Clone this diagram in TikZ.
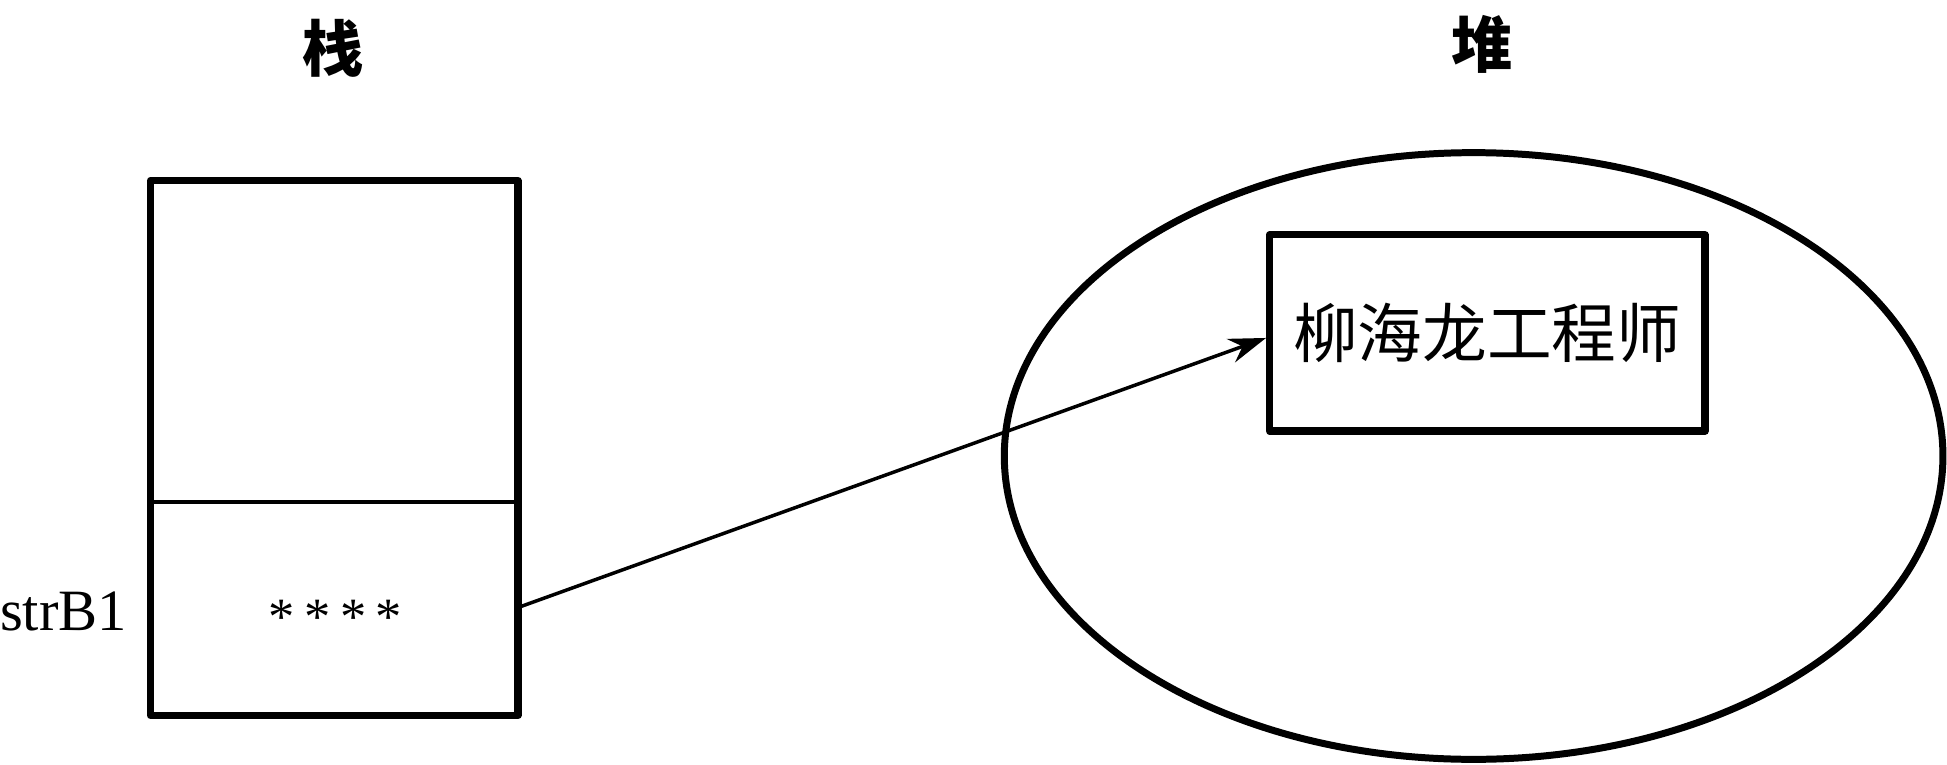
\documentclass[tikz,border=0pt]{standalone}
\usepackage{fontspec}
\setmainfont{Liberation Serif}
\newfontfamily\cjk{Noto Sans CJK SC}
\usetikzlibrary{arrows.meta,shapes.geometric}
\begin{document}
\begin{tikzpicture}[x=0.01cm,y=-0.01cm,
  cell/.style={draw=none,inner sep=0pt,minimum width=2.94cm},
  thickline/.style={line width=1.7pt,line join=round},
  title/.style={font=\cjk\bfseries\fontsize{14}{16}\selectfont},
  lbl/.style={font=\fontsize{13.4}{15}\selectfont,inner sep=0pt}]
\useasboundingbox (0,0) rectangle (1567,615);
\node[title] (t1) at (268,39) {栈};
\node[title] (t2) at (1193,36) {堆};
\node[cell,minimum height=2.57cm] (upper) at (269,274.5) {};
\node[cell,minimum height=1.72cm] (lower) at (269,489) {};
\node[font=\fontsize{12}{14}\selectfont,inner sep=0pt] (stars) at (270,497) {*\hspace{0.18em}*\hspace{0.18em}*\hspace{0.18em}*};
\draw[thickline] (upper.north west) rectangle (lower.south east);
\draw[line width=1pt] (upper.south west) -- (upper.south east);
\node[lbl,anchor=east] (s) at (103,492) {strB1};
\node[ellipse,draw,line width=1.6pt,minimum width=7.55cm,minimum height=4.88cm,inner sep=0pt] (heap) at (1186,367) {};
\node[draw,thickline,minimum width=3.5cm,minimum height=1.58cm,inner sep=0pt,font=\cjk\fontsize{14.8}{16}\selectfont] (hb) at (1197,268) {柳海龙工程师};
\draw[line width=0.8pt,-{Stealth[length=0.3cm,width=0.2cm,inset=0.1cm]}] (lower.east) -- ([yshift=-0.04cm]hb.west);
\end{tikzpicture}
\end{document}
